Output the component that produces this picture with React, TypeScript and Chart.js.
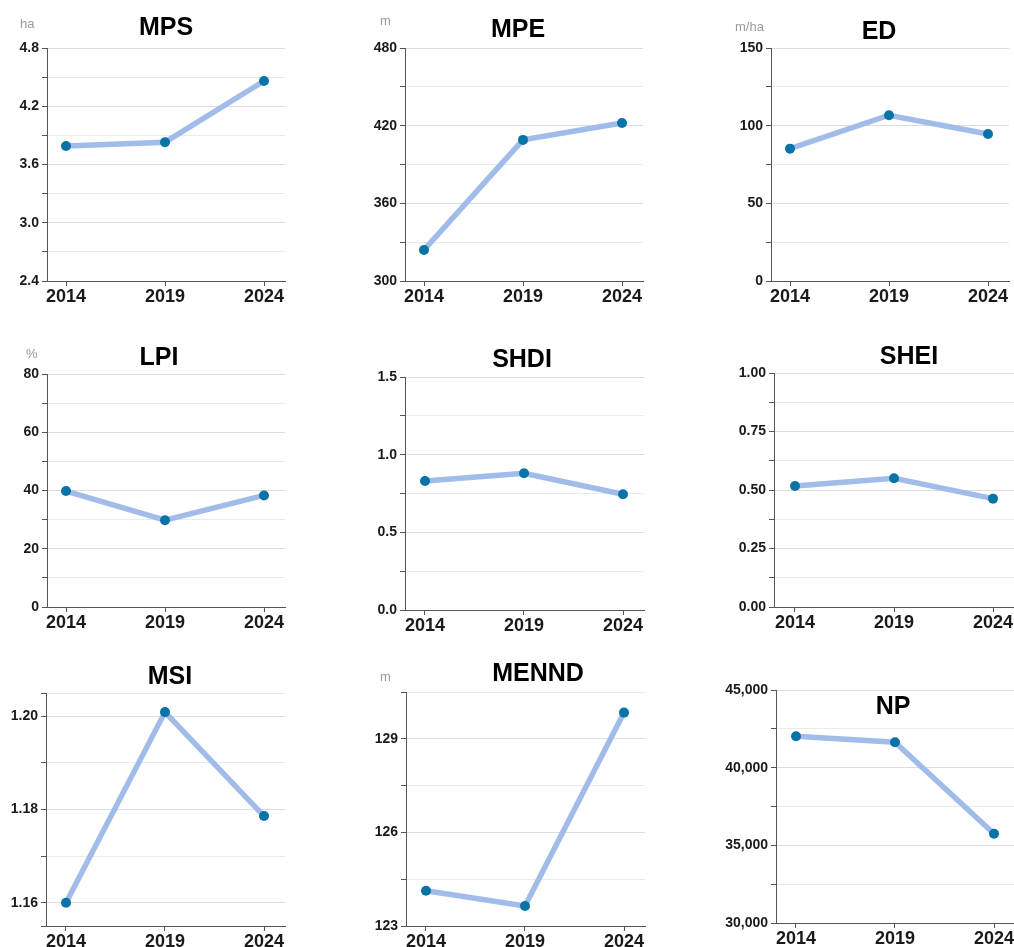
import React, { useEffect, useRef } from "react";
import { Chart, registerables } from "chart.js";

Chart.register(...registerables);

// ---------- data ----------
const years = [2014, 2019, 2024];
const mpsValues = [3.79, 3.83, 4.46];
const mpeValues = [324, 409, 422];
const edValues = [85.2, 106.7, 94.6];
const lpiValues = [39.8, 29.8, 38.3];
const shdiValues = [0.83, 0.88, 0.745];
const sheiValues = [0.517, 0.55, 0.463];
const msiValues = [1.16, 1.2009, 1.1786];
const menndValues = [124.13, 123.64, 129.84];
const npValues = [42020, 41640, 35740];

const titles = ["MPS", "MPE", "ED", "LPI", "SHDI", "SHEI", "MSI", "MENND", "NP"];
const units = ["ha", "m", "m/ha", "%", "", "", "", "m", ""];

// ---------- styling / layout ----------
const FONT = "'Liberation Sans', Arial, Helvetica, sans-serif";
const LINE_COLOR = "rgb(162,188,234)";
const POINT_COLOR = "rgb(8,115,166)";
const PX_PER_YEAR = 19.8;

type Panel = {
  title: string;
  unit: string;
  values: number[];
  min: number;
  max: number;
  step: number;
  major: number;
  fmt: (v: number) => string;
  left: number;
  top: number;
  bottom: number;
  firstX: number;
  titlePos: [number, number];
  unitPos: [number, number];
};

const dec = (d: number) => (v: number) => v.toFixed(d);
const comma = (v: number) => Math.round(v).toLocaleString("en-US");

const panels: Panel[] = [
  { title: titles[0], unit: units[0], values: mpsValues, min: 2.4, max: 4.8, step: 0.3, major: 0.6, fmt: dec(1),
    left: 47, top: 48, bottom: 281, firstX: 66, titlePos: [166, 35], unitPos: [20, 28] },
  { title: titles[1], unit: units[1], values: mpeValues, min: 300, max: 480, step: 30, major: 60, fmt: dec(0),
    left: 405, top: 48, bottom: 281, firstX: 424, titlePos: [518, 37], unitPos: [380, 25] },
  { title: titles[2], unit: units[2], values: edValues, min: 0, max: 150, step: 25, major: 50, fmt: dec(0),
    left: 771, top: 48, bottom: 281, firstX: 790, titlePos: [879, 39], unitPos: [735, 31] },
  { title: titles[3], unit: units[3], values: lpiValues, min: 0, max: 80, step: 10, major: 20, fmt: dec(0),
    left: 47, top: 374, bottom: 607, firstX: 66, titlePos: [159, 365], unitPos: [26, 358] },
  { title: titles[4], unit: units[4], values: shdiValues, min: 0, max: 1.5, step: 0.25, major: 0.5, fmt: dec(1),
    left: 405, top: 377, bottom: 610, firstX: 425, titlePos: [522, 367], unitPos: [0, 0] },
  { title: titles[5], unit: units[5], values: sheiValues, min: 0, max: 1, step: 0.125, major: 0.25, fmt: dec(2),
    left: 774, top: 373, bottom: 607, firstX: 795, titlePos: [909, 364], unitPos: [0, 0] },
  { title: titles[6], unit: units[6], values: msiValues, min: 1.155, max: 1.205, step: 0.01, major: 0.02, fmt: dec(2),
    left: 46, top: 693, bottom: 926, firstX: 66, titlePos: [170, 684], unitPos: [0, 0] },
  { title: titles[7], unit: units[7], values: menndValues, min: 123, max: 130.5, step: 1.5, major: 3, fmt: dec(0),
    left: 406, top: 692, bottom: 926, firstX: 426, titlePos: [538, 681], unitPos: [380, 681] },
  { title: titles[8], unit: units[8], values: npValues, min: 30000, max: 45000, step: 2500, major: 5000, fmt: comma,
    left: 776, top: 690, bottom: 923, firstX: 796, titlePos: [893, 714], unitPos: [0, 0] },
];

const PAD_L = 70;
const PAD_T = 70;
const PAD_R = 15;
const X_H = 35;

function isMajor(v: number, major: number) {
  const r = v / major;
  return Math.abs(r - Math.round(r)) < 1e-6;
}

function buildTicks(p: Panel): number[] {
  const out: number[] = [];
  const start = Math.ceil(p.min / p.step - 1e-9) * p.step;
  if (Math.abs(start - p.min) > 1e-9) out.push(p.min);
  for (let v = start; v <= p.max + 1e-9; v += p.step) out.push(Math.round(v * 1e6) / 1e6);
  if (Math.abs(out[out.length - 1] - p.max) > 1e-9) out.push(p.max);
  return out;
}

const textPlugin = {
  id: "panelText",
  afterDraw(chart: any, _args: any, opts: any) {
    const ctx = chart.ctx;
    ctx.save();
    ctx.fillStyle = "#000";
    ctx.font = `bold 25px ${FONT}`;
    ctx.textAlign = "center";
    ctx.textBaseline = "alphabetic";
    ctx.fillText(opts.title, opts.tx, opts.ty);
    if (opts.unit) {
      ctx.fillStyle = "#9a9a9a";
      ctx.font = `13px ${FONT}`;
      ctx.textAlign = "left";
      ctx.fillText(opts.unit, opts.ux, opts.uy);
    }
    ctx.restore();
  },
};

function PanelChart({ p }: { p: Panel }) {
  const ref = useRef<HTMLCanvasElement>(null);
  const right = p.firstX + 2 * 5 * PX_PER_YEAR + 21;
  const cl = p.left - PAD_L;
  const ct = p.top - PAD_T;
  const cw = right + PAD_R - cl;
  const ch = p.bottom + X_H - ct;

  useEffect(() => {
    if (!ref.current) return;
    const yTicks = buildTicks(p);
    const xMin = years[0] - (p.firstX - p.left) / PX_PER_YEAR;
    const xMax = years[0] + (right - p.firstX) / PX_PER_YEAR;
    const chart = new Chart(ref.current, {
      type: "line",
      data: {
        datasets: [
          {
            data: years.map((y, i) => ({ x: y, y: p.values[i] })),
            borderColor: LINE_COLOR,
            borderWidth: 5.5,
            pointBackgroundColor: POINT_COLOR,
            pointBorderWidth: 0,
            pointRadius: 5,
            tension: 0,
            clip: false as any,
          },
        ],
      },
      options: {
        animation: false,
        responsive: false,
        devicePixelRatio: 1,
        layout: { padding: { left: 0, top: PAD_T, right: PAD_R, bottom: 0 } },
        plugins: {
          legend: { display: false },
          tooltip: { enabled: false },
          panelText: {
            title: p.title,
            unit: p.unit,
            tx: p.titlePos[0] - cl,
            ty: p.titlePos[1] - ct,
            ux: p.unitPos[0] - cl,
            uy: p.unitPos[1] - ct,
          },
        } as any,
        scales: {
          x: {
            type: "linear",
            min: xMin,
            max: xMax,
            afterBuildTicks: (s: any) => {
              s.ticks = years.map((y) => ({ value: y }));
            },
            afterFit: (s: any) => {
              s.height = X_H;
            },
            grid: { drawOnChartArea: false, drawTicks: true, tickLength: 5, tickColor: "#555" },
            border: { display: true, color: "#555", width: 1 },
            ticks: {
              autoSkip: false,
              maxRotation: 0,
              padding: 0,
              color: "#1a1a1a",
              font: { family: FONT, size: 18, weight: "bold" },
              callback: (v: any) => String(v),
            },
          },
          y: {
            type: "linear",
            min: p.min,
            max: p.max,
            afterBuildTicks: (s: any) => {
              s.ticks = yTicks.map((v) => ({ value: v }));
            },
            afterFit: (s: any) => {
              s.width = PAD_L;
            },
            grid: {
              drawOnChartArea: true,
              drawTicks: true,
              tickLength: 5,
              tickColor: "#555",
              color: (c: any) =>
                c.tick && isMajor(c.tick.value, p.major) ? "#dddddd" : "#ebebeb",
            },
            border: { display: true, color: "#555", width: 1 },
            ticks: {
              autoSkip: false,
              padding: 3,
              color: "#1a1a1a",
              font: { family: FONT, size: 14, weight: "bold" },
              callback: (v: any) => (isMajor(Number(v), p.major) ? p.fmt(Number(v)) : ""),
            },
          },
        },
      } as any,
      plugins: [textPlugin as any],
    });
    return () => chart.destroy();
  }, []);

  return (
    <canvas
      ref={ref}
      width={cw}
      height={ch}
      style={{ position: "absolute", left: cl, top: ct, width: cw, height: ch }}
    />
  );
}

export default function App() {
  return (
    <div
      style={{
        position: "absolute",
        left: 0,
        top: 0,
        width: 1014,
        height: 947,
        overflow: "hidden",
        background: "#fff",
      }}
    >
      {panels.map((p) => (
        <PanelChart key={p.title} p={p} />
      ))}
    </div>
  );
}
